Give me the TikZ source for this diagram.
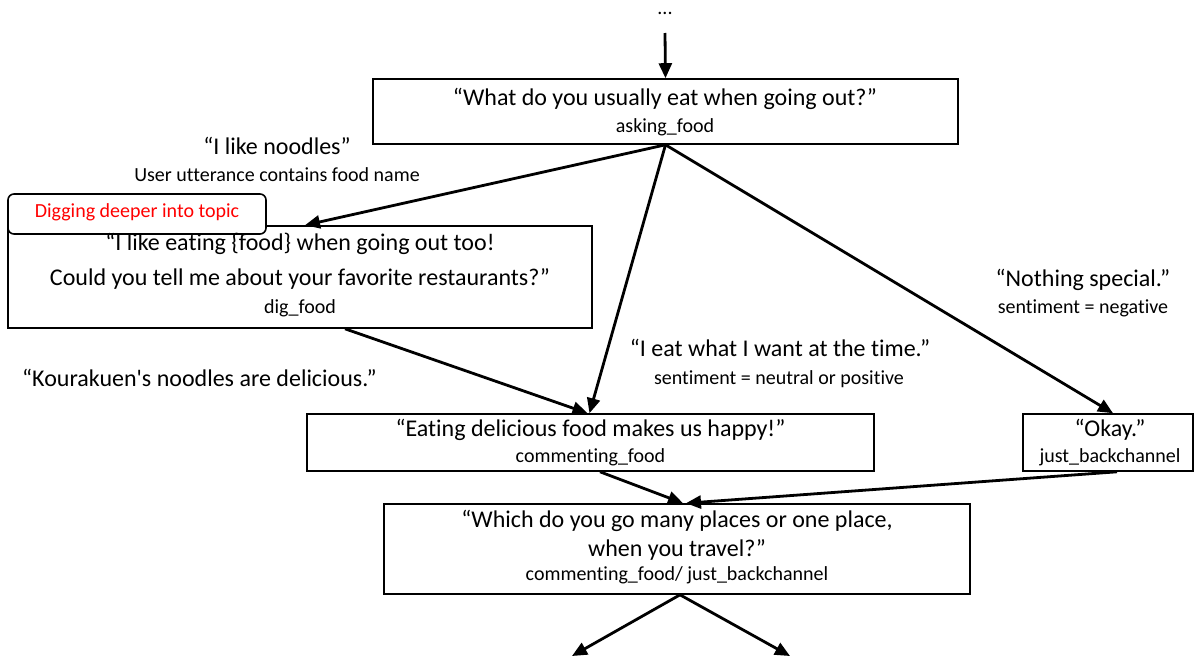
\documentclass[tikz,border=0pt]{standalone}
\usepackage{fontspec}
\setmainfont{Carlito}[Ligatures={NoCommon}]
\usetikzlibrary{arrows.meta}
\begin{document}
\begin{tikzpicture}[x=1pt,y=-1pt,
  box/.style={draw,line width=1.6pt,inner sep=0pt,fill=white},
  big/.style={font=\fontsize{24}{28}\selectfont,inner sep=0pt,text height=0.7em,text depth=0.25em},
  small/.style={font=\fontsize{20}{24}\selectfont,inner sep=0pt,text height=0.7em,text depth=0.25em},
  arr/.style={line width=2.8pt,-{Triangle[length=15pt,width=13pt]}}]
\useasboundingbox (0,0) rectangle (1203,656);
% boxes
\node[box,minimum width=585pt,minimum height=65pt] (ask) at (665.5,111.5) {};
\node[box,minimum width=584pt,minimum height=102pt] (dig) at (300,277) {};
\node[box,rounded corners=6pt,minimum width=258pt,minimum height=40pt] (tag) at (137,214) {};
\node[box,minimum width=567pt,minimum height=57pt] (com) at (590.5,442.5) {};
\node[box,minimum width=170pt,minimum height=57pt] (ok) at (1108,442.5) {};
\node[box,minimum width=586pt,minimum height=90pt] (fin) at (677,549) {};
% texts
\node[small,anchor=base,text depth=0pt] (dots) at (665,14) {...};
\node[big] (askt) at (665,103) {“What do you usually eat when going out?”};
\node[small] (asks) at (665,130) {asking\_food};
\node[small,text=red] (tagt) at (137,215) {Digging deeper into topic};
\node[big] (digt1) at (300,248) {“I like eating \{food\} when going out too!};
\node[big] (digt2) at (300,283) {Could you tell me about your favorite restaurants?”};
\node[small] (digs) at (300,311) {dig\_food};
\node[big] (comt) at (590.5,434) {“Eating delicious food makes us happy!”};
\node[small] (coms) at (590.5,460) {commenting\_food};
\node[big] (okt) at (1110,434) {“Okay.”};
\node[small] (oks) at (1110,460) {just\_backchannel};
\node[big] (fint1) at (677,525) {“Which do you go many places or one place,};
\node[big] (fint2) at (677,554) {when you travel?”};
\node[small] (fins) at (677,578) {commenting\_food/ just\_backchannel};
% edge labels
\node[big] (l1) at (277,152) {“I like noodles”};
\node[small] (l1s) at (277,179) {User utterance contains food name};
\node[big] (l2) at (1083,284) {“Nothing special.”};
\node[small] (l2s) at (1083,311) {sentiment = negative};
\node[big] (l3) at (780,354) {“I eat what I want at the time.”};
\node[small] (l3s) at (779,382) {sentiment = neutral or positive};
\node[big,anchor=west] (l4) at (22,384) {“Kourakuen\textquotesingle s noodles are delicious.”};
% connectors
\coordinate (top) at (665,33);
\coordinate (e1) at (572,656);
\coordinate (e2) at (790,656);
\draw[arr] (top) -- (ask.north);
\draw[arr] (ask.south) -- ([xshift=5pt]dig.north);
\draw[arr] (ask.south) -- ([xshift=-1pt]com.north);
\draw[arr] (ask.south) -- ([xshift=5pt]ok.north);
\draw[arr] ([xshift=45pt]dig.south) -- ([xshift=-3pt]com.north);
\draw[arr] ([xshift=9.5pt]com.south) -- ([xshift=6pt]fin.north);
\draw[arr] ([xshift=9pt]ok.south) -- ([xshift=9pt]fin.north);
\draw[arr] ([xshift=3pt]fin.south) -- (e1);
\draw[arr] ([xshift=3pt]fin.south) -- (e2);
\end{tikzpicture}
\end{document}
